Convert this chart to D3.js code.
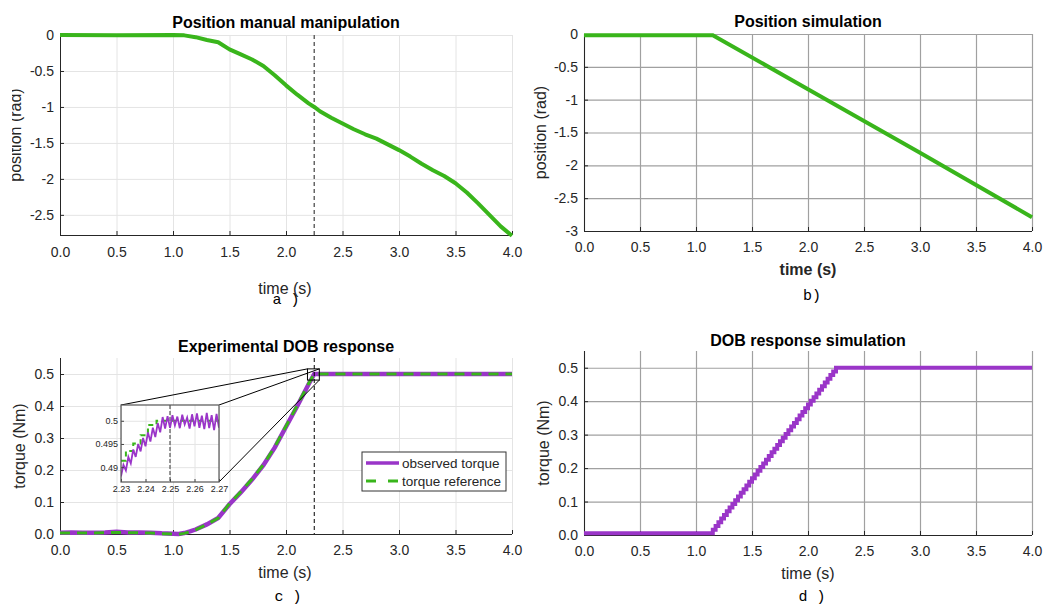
<!DOCTYPE html>
<html>
<head>
  <title>Position and DOB response</title>
  <meta charset="utf-8">
  <script src="https://d3js.org/d3.v7.min.js"></script>
  <style>
    body { margin: 0; background: #fff; }
    text { font-family: "Liberation Sans", Arial, sans-serif; fill: #262626; }
    .title { font-weight: bold; font-size: 16px; fill: #000; }
    .tick text { font-size: 14px; fill: #262626; }
    .lab { font-size: 16px; }
    .sub { font-family: "Liberation Mono", "Courier New", monospace; font-size: 15px; fill: #000; }
    .inset .tick text { font-size: 9px; }
  </style>
</head>
<body>
  <svg width="1054" height="608"></svg>
  <script>

    const svg = d3.select("svg")

    const xTicks = [0, 0.5, 1, 1.5, 2, 2.5, 3, 3.5, 4]

    // a) measured position under manual manipulation
    const tPosExp = [0, 0.5, 1.0, 1.1, 1.2, 1.3, 1.4, 1.5, 1.6, 1.7, 1.8, 1.9, 2.0, 2.1, 2.2, 2.25, 2.3, 2.4, 2.5, 2.6, 2.7, 2.8, 2.9, 3.0, 3.1, 3.2, 3.3, 3.4, 3.5, 3.6, 3.7, 3.8, 3.9, 4.0]
    const posExp = [0, -0.005, 0, -0.005, -0.03, -0.07, -0.1, -0.2, -0.27, -0.34, -0.43, -0.56, -0.7, -0.83, -0.95, -1.0, -1.06, -1.15, -1.23, -1.31, -1.38, -1.44, -1.52, -1.6, -1.69, -1.79, -1.88, -1.96, -2.06, -2.19, -2.34, -2.5, -2.66, -2.79]
    const posTicksA = [0, -0.5, -1, -1.5, -2, -2.5]

    // b) simulated position
    const tPosSim = [0, 1.15, 2.0, 3.0, 4.0]
    const posSim = [-0.02, -0.02, -0.84, -1.81, -2.79]
    const posTicksB = [0, -0.5, -1, -1.5, -2, -2.5, -3]

    // c) experimental DOB response
    const tTorque = [0, 0.1, 0.2, 0.3, 0.4, 0.5, 0.6, 0.7, 0.8, 0.9, 1.0, 1.05, 1.1, 1.15, 1.2, 1.3, 1.4, 1.5, 1.6, 1.7, 1.8, 1.9, 2.0, 2.1, 2.2, 2.25, 2.3, 2.5, 3.0, 3.5, 4.0]
    const torqueObs = [0.004, 0.005, 0.004, 0.004, 0.005, 0.007, 0.005, 0.005, 0.004, 0.002, 0.001, 0.0, 0.003, 0.008, 0.014, 0.03, 0.05, 0.093, 0.13, 0.17, 0.215, 0.27, 0.335, 0.4, 0.468, 0.5, 0.5, 0.5, 0.5, 0.5, 0.5]
    const torqueRef = [0.003, 0.003, 0.003, 0.003, 0.004, 0.005, 0.004, 0.004, 0.003, 0.001, 0.0, -0.001, 0.002, 0.007, 0.013, 0.03, 0.05, 0.095, 0.132, 0.172, 0.217, 0.272, 0.337, 0.402, 0.47, 0.5, 0.5, 0.5, 0.5, 0.5, 0.5]
    const torqueTicks = [0, 0.1, 0.2, 0.3, 0.4, 0.5]

    // inset of c)
    const tInset = [2.230, 2.231, 2.232, 2.233, 2.234, 2.235, 2.236, 2.237, 2.238, 2.239, 2.240, 2.241, 2.242, 2.243, 2.244, 2.245, 2.246, 2.247, 2.248, 2.249, 2.250, 2.251, 2.252, 2.253, 2.254, 2.255, 2.256, 2.257, 2.258, 2.259, 2.260, 2.261, 2.262, 2.263, 2.264, 2.265, 2.266, 2.267, 2.268, 2.269, 2.270]
    const insetObs = [0.4880, 0.4905, 0.4893, 0.4922, 0.4908, 0.4938, 0.4922, 0.4950, 0.4934, 0.4963, 0.4945, 0.4975, 0.4955, 0.4985, 0.4965, 0.4995, 0.4975, 0.5008, 0.4983, 0.5010, 0.4985, 0.5012, 0.4990, 0.5009, 0.4984, 0.5013, 0.4992, 0.5007, 0.4983, 0.5014, 0.4988, 0.5016, 0.4985, 0.5011, 0.4982, 0.5017, 0.4984, 0.5012, 0.4980, 0.5015, 0.4985]
    const tInsetRef = [2.230, 2.232, 2.232, 2.235, 2.235, 2.238, 2.238, 2.241, 2.241, 2.2445, 2.2445, 2.2465, 2.270]
    const insetRef = [0.4914, 0.4914, 0.4935, 0.4935, 0.4951, 0.4951, 0.4969, 0.4969, 0.4991, 0.4991, 0.5, 0.5, 0.5]
    const insetXTicks = [2.23, 2.24, 2.25, 2.26, 2.27]
    const insetYTicks = [0.49, 0.495, 0.5]

    // d) simulated DOB response
    const tTorqueSim = [0, 1.125, 1.15, 1.175, 1.2, 1.225, 1.25, 1.275, 1.3, 1.325, 1.35, 1.375, 1.4, 1.425, 1.45, 1.475, 1.5, 1.525, 1.55, 1.575, 1.6, 1.625, 1.65, 1.675, 1.7, 1.725, 1.75, 1.775, 1.8, 1.825, 1.85, 1.875, 1.9, 1.925, 1.95, 1.975, 2.0, 2.025, 2.05, 2.075, 2.1, 2.125, 2.15, 2.175, 2.2, 2.225, 2.25, 4.0]
    const torqueSim = [0.005, 0.005, 0.016, 0.027, 0.038, 0.049, 0.060, 0.071, 0.082, 0.093, 0.104, 0.115, 0.126, 0.137, 0.148, 0.159, 0.170, 0.181, 0.192, 0.203, 0.214, 0.225, 0.236, 0.247, 0.258, 0.269, 0.280, 0.291, 0.302, 0.313, 0.324, 0.335, 0.346, 0.357, 0.368, 0.379, 0.390, 0.401, 0.412, 0.423, 0.434, 0.445, 0.456, 0.467, 0.478, 0.489, 0.500, 0.500]

    const green = "#39b51b"
    const purple = "#9a35c8"

    const fmtPos = d => d === 0 ? "0" : String(d)
    const fmt1 = d3.format(".1f")

    // clip for the cropped y label of panel a (left edge of the figure)
    svg.append("clipPath").attr("id", "cutLeft")
      .append("rect").attr("x", 12).attr("y", 0).attr("width", 40).attr("height", 300)

    function panel(o) {
      const x = d3.scaleLinear().domain([0, 4]).range([o.left, o.right])
      const y = d3.scaleLinear().domain(o.yDomain).range([o.bottom, o.top])
      const g = svg.append("g")

      // grid
      g.append("g").attr("transform", `translate(0,${o.bottom})`)
        .call(d3.axisBottom(x).tickValues(xTicks).tickSize(-(o.bottom - o.top)).tickFormat(""))
        .call(s => s.select(".domain").remove())
        .selectAll("line").attr("stroke", o.grid).attr("stroke-width", o.gridWidth)
      g.append("g").attr("transform", `translate(${o.left},0)`)
        .call(d3.axisLeft(y).tickValues(o.yTicks).tickSize(-(o.right - o.left)).tickFormat(""))
        .call(s => s.select(".domain").remove())
        .selectAll("line").attr("stroke", o.grid).attr("stroke-width", o.gridWidth)

      // axes with inward ticks
      const ax = g.append("g").attr("transform", `translate(0,${o.bottom})`)
        .call(d3.axisBottom(x).tickValues(xTicks).tickSizeInner(-4).tickSizeOuter(0).tickPadding(o.xPad).tickFormat(fmt1))
      const ay = g.append("g").attr("transform", `translate(${o.left},0)`)
        .call(d3.axisLeft(y).tickValues(o.yTicks).tickSizeInner(-4).tickSizeOuter(0).tickPadding(6).tickFormat(o.yFormat))
      ay.select(".domain").attr("d", `M0.5,${o.top}V${o.bottom}`)
      ax.select(".domain").attr("d", `M${o.left},0.5H${o.right}`)
      for (const a of [ax, ay]) {
        a.select(".domain").attr("stroke", "#262626")
        a.selectAll(".tick line").attr("stroke", "#262626")
        a.attr("font-family", null).attr("font-size", null)
      }

      g.append("text").attr("class", "title").attr("x", o.titleX).attr("y", o.titleY)
        .attr("text-anchor", "middle").text(o.title)
      g.append("text").attr("class", "lab").attr("x", o.xlabX).attr("y", o.xlabY)
        .attr("text-anchor", "middle").attr("font-weight", o.xlabWeight || null).text("time (s)")
      g.append("g").attr("clip-path", o.ylabClip || null)
        .append("text").attr("class", "lab")
        .attr("transform", `translate(${o.ylabX},${(o.top + o.bottom) / 2}) rotate(-90)`)
        .attr("text-anchor", "middle").text(o.ylabel)
      g.append("text").attr("class", "sub").attr("x", o.subX).attr("y", o.subY)
        .attr("text-anchor", "middle").text(o.sub)
      return { g, x, y }
    }

    // ---------- a ----------
    const A = panel({
      left: 60, right: 512, top: 35, bottom: 235, yDomain: [-2.78, 0], yTicks: posTicksA,
      yFormat: fmtPos, grid: "#e4e4e4", gridWidth: 1, xPad: 12,
      title: "Position manual manipulation", titleX: 286, titleY: 28,
      xlabX: 285, xlabY: 294, ylabel: "position (rad)", ylabX: 21, ylabClip: "url(#cutLeft)",
      sub: "a )", subX: 286, subY: 304
    })
    A.g.append("line").attr("x1", A.x(2.25)).attr("x2", A.x(2.25)).attr("y1", A.y(0)).attr("y2", A.y(-2.78))
      .attr("stroke", "#666").attr("stroke-width", 1.5).attr("stroke-dasharray", "4,3")
    A.g.append("path")
      .datum(tPosExp.map((t, i) => [t, posExp[i]]))
      .attr("fill", "none").attr("stroke", green).attr("stroke-width", 4).attr("stroke-linejoin", "round")
      .attr("d", d3.line().x(d => A.x(d[0])).y(d => A.y(d[1])))

    // ---------- b ----------
    const B = panel({
      left: 584, right: 1032, top: 34, bottom: 231, yDomain: [-3, 0], yTicks: posTicksB,
      yFormat: fmtPos, grid: "#a0a0a0", gridWidth: 1.2, xPad: 11,
      title: "Position simulation", titleX: 808, titleY: 27,
      xlabX: 808, xlabY: 275, xlabWeight: 600, ylabel: "position (rad)", ylabX: 546,
      sub: "b)", subX: 812, subY: 300
    })
    B.g.append("path")
      .datum(tPosSim.map((t, i) => [t, posSim[i]]))
      .attr("fill", "none").attr("stroke", green).attr("stroke-width", 4)
      .attr("d", d3.line().x(d => B.x(d[0])).y(d => B.y(d[1])))

    // ---------- c ----------
    const C = panel({
      left: 60, right: 512, top: 358, bottom: 534, yDomain: [0, 0.55], yTicks: torqueTicks,
      yFormat: fmt1, grid: "#e4e4e4", gridWidth: 1, xPad: 11,
      title: "Experimental DOB response", titleX: 286, titleY: 352,
      xlabX: 285, xlabY: 578, ylabel: "torque (Nm)", ylabX: 25, sub: "c )", subX: 288, subY: 601
    })
    const lineC = d3.line().x(d => C.x(d[0])).y(d => C.y(d[1]))
    C.g.append("path")
      .datum(tTorque.map((t, i) => [t, torqueObs[i]]))
      .attr("fill", "none").attr("stroke", purple).attr("stroke-width", 4.5).attr("d", lineC)
    C.g.append("path")
      .datum(tTorque.map((t, i) => [t, torqueRef[i]]))
      .attr("fill", "none").attr("stroke", green).attr("stroke-width", 3).attr("stroke-dasharray", "10,7").attr("d", lineC)
    C.g.append("line").attr("x1", C.x(2.25)).attr("x2", C.x(2.25)).attr("y1", C.y(0.55)).attr("y2", C.y(0))
      .attr("stroke", "#000").attr("stroke-width", 1).attr("stroke-dasharray", "4,3")

    // zoom box and connectors
    const box = { x0: C.x(2.19), x1: C.x(2.295), y0: C.y(0.516), y1: C.y(0.481) }
    const ins = { left: 121, right: 219, top: 405, bottom: 482 }
    C.g.append("rect").attr("x", box.x0).attr("y", box.y0).attr("width", box.x1 - box.x0).attr("height", box.y1 - box.y0)
      .attr("fill", "none").attr("stroke", "#000").attr("stroke-width", 1)
    C.g.selectAll(".conn")
      .data([[ins.left, ins.top, box.x0, box.y0], [ins.right, ins.top, box.x1, box.y0], [ins.right, ins.bottom, box.x1, box.y1]])
      .join("line").attr("x1", d => d[0]).attr("y1", d => d[1]).attr("x2", d => d[2]).attr("y2", d => d[3])
      .attr("stroke", "#000").attr("stroke-width", 1)

    // inset
    const I = C.g.append("g").attr("class", "inset")
    const xi = d3.scaleLinear().domain([2.23, 2.27]).range([ins.left, ins.right])
    const yi = d3.scaleLinear().domain([0.4868, 0.5034]).range([ins.bottom, ins.top])
    svg.append("clipPath").attr("id", "insetClip").append("rect")
      .attr("x", ins.left).attr("y", ins.top).attr("width", ins.right - ins.left).attr("height", ins.bottom - ins.top)
    I.append("rect").attr("x", ins.left).attr("y", ins.top).attr("width", ins.right - ins.left).attr("height", ins.bottom - ins.top)
      .attr("fill", "#fff")
    I.append("g").attr("transform", `translate(0,${ins.bottom})`)
      .call(d3.axisBottom(xi).tickValues(insetXTicks).tickSize(-(ins.bottom - ins.top)).tickFormat(""))
      .call(s => s.select(".domain").remove())
      .selectAll("line").attr("stroke", "#e4e4e4")
    I.append("g").attr("transform", `translate(${ins.left},0)`)
      .call(d3.axisLeft(yi).tickValues(insetYTicks).tickSize(-(ins.right - ins.left)).tickFormat(""))
      .call(s => s.select(".domain").remove())
      .selectAll("line").attr("stroke", "#e4e4e4")
    I.append("line").attr("x1", xi(2.25)).attr("x2", xi(2.25)).attr("y1", ins.top).attr("y2", ins.bottom)
      .attr("stroke", "#555").attr("stroke-width", 1.2).attr("stroke-dasharray", "4,2")
    const lineI = d3.line().x(d => xi(d[0])).y(d => yi(d[1]))
    I.append("path").attr("clip-path", "url(#insetClip)")
      .datum(tInsetRef.map((t, i) => [t, insetRef[i]]))
      .attr("fill", "none").attr("stroke", green).attr("stroke-width", 2).attr("stroke-dasharray", "5,4").attr("d", lineI)
    I.append("path").attr("clip-path", "url(#insetClip)")
      .datum(tInset.map((t, i) => [t, insetObs[i]]))
      .attr("fill", "none").attr("stroke", purple).attr("stroke-width", 1.8).attr("d", lineI)
    const ixa = I.append("g").attr("transform", `translate(0,${ins.bottom})`)
      .call(d3.axisBottom(xi).tickValues(insetXTicks).tickSizeInner(-3).tickSizeOuter(0).tickPadding(4).tickFormat(d3.format(".2f")))
    const iya = I.append("g").attr("transform", `translate(${ins.left},0)`)
      .call(d3.axisLeft(yi).tickValues(insetYTicks).tickSizeInner(-3).tickSizeOuter(0).tickPadding(3).tickFormat(d => String(d)))
    for (const a of [ixa, iya]) {
      a.attr("font-family", null).attr("font-size", null)
      a.select(".domain").remove()
      a.selectAll(".tick line").attr("stroke", "#444")
    }
    I.append("rect").attr("x", ins.left).attr("y", ins.top).attr("width", ins.right - ins.left).attr("height", ins.bottom - ins.top)
      .attr("fill", "none").attr("stroke", "#555").attr("stroke-width", 1.2)

    // legend
    const L = C.g.append("g").attr("transform", "translate(362,452)")
    L.append("rect").attr("width", 144).attr("height", 39).attr("fill", "#fff").attr("stroke", "#333").attr("stroke-width", 1)
    const legendItems = [
      { label: "observed torque", color: purple, dash: null, w: 3.5 },
      { label: "torque reference", color: green, dash: "10,12", w: 3 }
    ]
    legendItems.forEach((d, i) => {
      const yy = 11 + i * 18
      L.append("line").attr("x1", 4).attr("x2", 37).attr("y1", yy).attr("y2", yy)
        .attr("stroke", d.color).attr("stroke-width", d.w).attr("stroke-dasharray", d.dash)
      L.append("text").attr("x", 40).attr("y", yy + 5).attr("font-size", "13.5px").attr("fill", "#000").text(d.label)
    })

    // ---------- d ----------
    const D = panel({
      left: 584, right: 1032, top: 351, bottom: 535, yDomain: [0, 0.55], yTicks: torqueTicks,
      yFormat: fmt1, grid: "#a0a0a0", gridWidth: 1.2, xPad: 11,
      title: "DOB response simulation", titleX: 808, titleY: 346,
      xlabX: 808, xlabY: 579, ylabel: "torque (Nm)", ylabX: 549, sub: "d )", subX: 812, subY: 601
    })
    D.g.append("path")
      .datum(tTorqueSim.map((t, i) => [t, torqueSim[i]]))
      .attr("fill", "none").attr("stroke", purple).attr("stroke-width", 4)
      .attr("d", d3.line().curve(d3.curveStepAfter).x(d => D.x(d[0])).y(d => D.y(d[1])))

  </script>
</body>
</html>
